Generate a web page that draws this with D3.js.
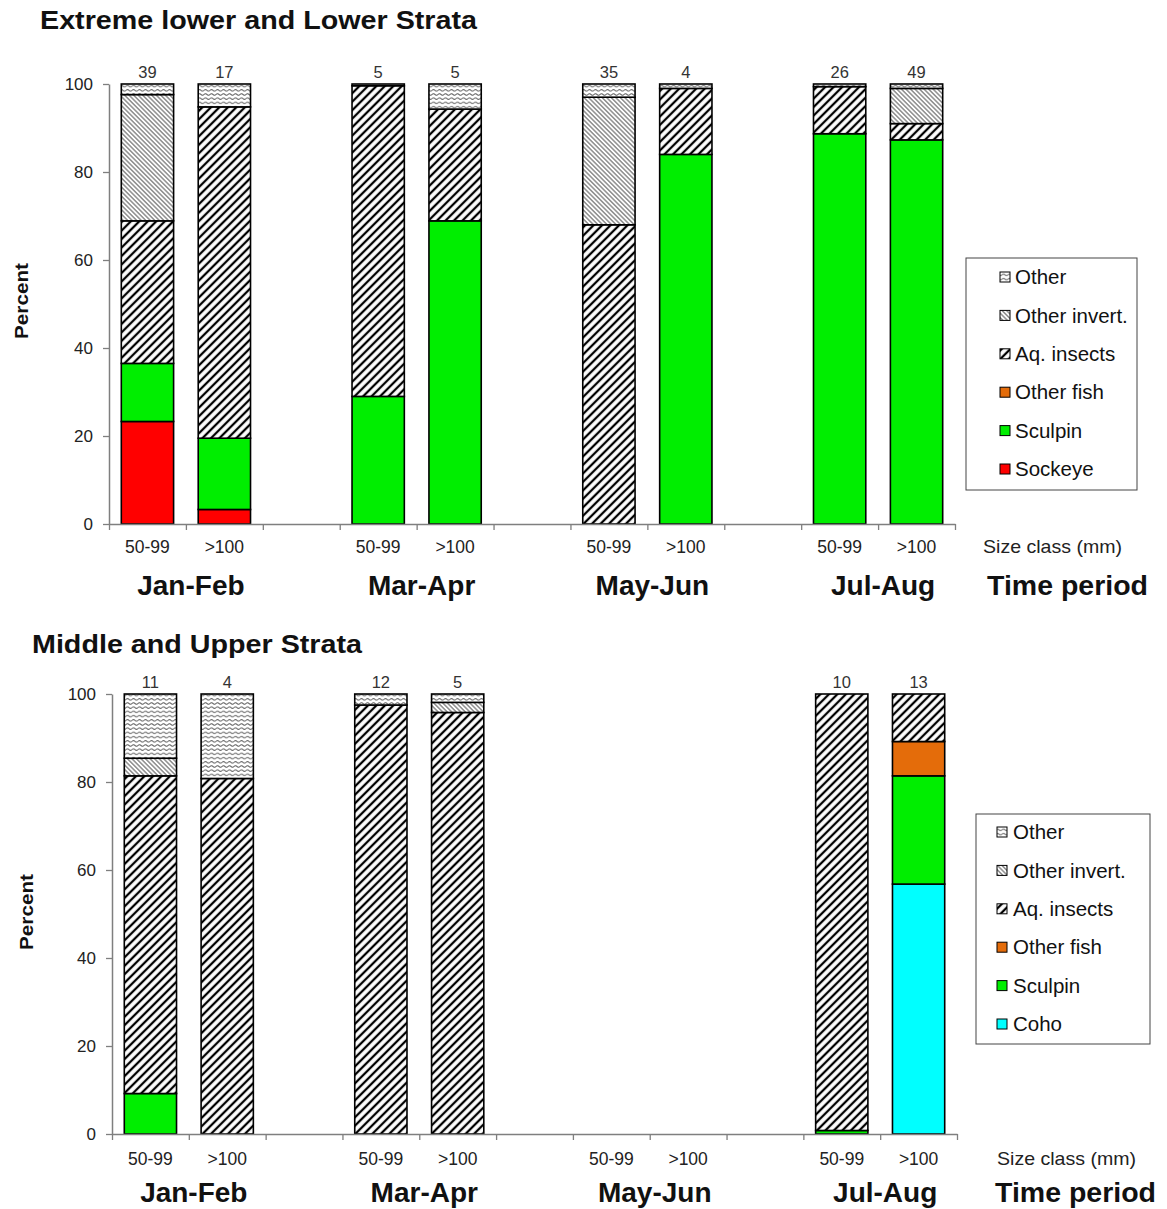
<!DOCTYPE html>
<html><head><meta charset="utf-8">
<script src="https://cdn.jsdelivr.net/npm/d3@7"></script>
<style>
body{margin:0;background:#fff;}
svg{display:block;font-family:"Liberation Sans",Arial,sans-serif;}
</style></head>
<body>
<svg id="chart" width="1167" height="1209"></svg>
<script>
// ---------- DATA ----------
const periods = ["Jan-Feb", "Mar-Apr", "May-Jun", "Jul-Aug"];
const sizeClasses = ["50-99", ">100"];
const yTicks = [0, 20, 40, 60, 80, 100];

// Top panel: Extreme lower and Lower Strata (order: Jan 50-99, Jan >100, Mar 50-99, ...)
const topCounts      = [39, 17, 5, 5, 35, 4, 26, 49];
const topSockeye     = [23.3, 3.3, 0, 0, 0, 0, 0, 0];
const topSculpin     = [13.2, 16.2, 29.0, 68.9, 0, 84.0, 88.7, 87.3];
const topOtherFish   = [0, 0, 0, 0, 0, 0, 0, 0];
const topAqInsects   = [32.4, 75.3, 70.6, 25.4, 68.0, 15.0, 10.7, 3.7];
const topOtherInvert = [28.7, 0, 0, 0, 29.0, 0, 0, 8.0];
const topOther       = [2.4, 5.2, 0.4, 5.7, 3.0, 1.0, 0.6, 1.0];

// Bottom panel: Middle and Upper Strata
const botCounts      = [11, 4, 12, 5, null, null, 10, 13];
const botCoho        = [0, 0, 0, 0, 0, 0, 0, 56.8];
const botSculpin     = [9.2, 0, 0, 0, 0, 0, 0.8, 24.6];
const botOtherFish   = [0, 0, 0, 0, 0, 0, 0, 7.8];
const botAqInsects   = [72.2, 80.8, 97.5, 95.8, 0, 0, 99.2, 10.8];
const botOtherInvert = [4.0, 0, 0, 2.3, 0, 0, 0, 0];
const botOther       = [14.6, 19.2, 2.5, 1.9, 0, 0, 0, 0];

// ---------- SETUP ----------
const svg = d3.select("#chart");
const defs = svg.append("defs");

const pa = defs.append("pattern").attr("id","pAq").attr("patternUnits","userSpaceOnUse")
  .attr("width",6).attr("height",6).attr("patternTransform","rotate(45)");
pa.append("rect").attr("width",6).attr("height",6).attr("fill","#fff");
pa.append("line").attr("x1",3).attr("x2",3).attr("y1",0).attr("y2",6).attr("stroke","#000").attr("stroke-width",2.3);

const po = defs.append("pattern").attr("id","pOI").attr("patternUnits","userSpaceOnUse")
  .attr("width",3.2).attr("height",3.2).attr("patternTransform","rotate(-45)");
po.append("rect").attr("width",3.2).attr("height",3.2).attr("fill","#fff");
po.append("line").attr("x1",1.6).attr("x2",1.6).attr("y1",0).attr("y2",3.2).attr("stroke","#555").attr("stroke-width",1);

const pw = defs.append("pattern").attr("id","pOther").attr("patternUnits","userSpaceOnUse")
  .attr("width",6).attr("height",4.2);
pw.append("rect").attr("width",6).attr("height",4.2).attr("fill","#fff");
pw.append("path").attr("d","M0,2.1 Q1.5,0.6 3,2.1 T6,2.1").attr("fill","none").attr("stroke","#666").attr("stroke-width",0.9);

const fills = {
  sockeye: "#ff0000", coho: "#00ffff", sculpin: "#00ee00", otherFish: "#e46c0a",
  aq: "url(#pAq)", oi: "url(#pOI)", other: "url(#pOther)"
};
const labels = {
  sockeye: "Sockeye", coho: "Coho", sculpin: "Sculpin", otherFish: "Other fish",
  aq: "Aq. insects", oi: "Other invert.", other: "Other"
};

function drawPanel(cfg) {
  const g = svg.append("g");
  const slotKeys = [];
  periods.forEach((p, i) => {
    sizeClasses.forEach(s => slotKeys.push(p + "|" + s));
    if (i < periods.length - 1) slotKeys.push("gap" + i);
  });
  const xb = d3.scaleBand().domain(slotKeys).range([cfg.x0, cfg.x1]).padding(0);
  const xl = d3.scaleLinear().domain([0, slotKeys.length]).range([cfg.x0, cfg.x1]);
  const y = d3.scaleLinear().domain([0, 100]).range([cfg.yBot, cfg.yTop]);

  const rows = [];
  periods.forEach((p, i) => sizeClasses.forEach((s, j) => {
    const k = i * 2 + j;
    const r = { key: p + "|" + s, n: cfg.counts[k] };
    cfg.keys.forEach(key => r[key] = cfg.series[key][k]);
    rows.push(r);
  }));
  const stacked = d3.stack().keys(cfg.keys)(rows);
  const bw = xb.bandwidth() * 0.68;

  stacked.forEach(layer => {
    g.append("g").selectAll("rect").data(layer.filter(d => d[1] - d[0] > 0)).join("rect")
      .attr("x", d => xb(d.data.key) + (xb.bandwidth() - bw) / 2)
      .attr("width", bw)
      .attr("y", d => y(d[1]))
      .attr("height", d => y(d[0]) - y(d[1]))
      .attr("fill", fills[layer.key])
      .attr("stroke", "#000").attr("stroke-width", 1.6);
  });

  g.append("g").selectAll("text").data(rows.filter(d => d.n != null)).join("text")
    .attr("x", d => xb(d.key) + xb.bandwidth() / 2)
    .attr("y", cfg.yTop - 6)
    .attr("text-anchor", "middle").attr("font-size", 16.5).attr("fill", "#333")
    .text(d => d.n);

  const ya = g.append("g").attr("transform", `translate(${cfg.x0},0)`)
    .call(d3.axisLeft(y).tickValues(yTicks).tickSize(6).tickSizeOuter(0).tickPadding(10));
  ya.select(".domain").attr("stroke", "#7f7f7f").attr("stroke-width", 1.5);
  ya.selectAll(".tick line").attr("stroke", "#7f7f7f").attr("stroke-width", 1.3);
  ya.selectAll("text").attr("font-size", 17).attr("fill", "#222").attr("font-family", "Liberation Sans, Arial");

  const xa = g.append("g").attr("transform", `translate(0,${cfg.yBot})`)
    .call(d3.axisBottom(xl).tickValues(d3.range(slotKeys.length + 1)).tickFormat("").tickSize(6).tickSizeOuter(0));
  xa.select(".domain").attr("stroke", "#7f7f7f").attr("stroke-width", 1.5);
  xa.selectAll(".tick line").attr("stroke", "#7f7f7f").attr("stroke-width", 1.3);

  g.append("g").selectAll("text").data(rows).join("text")
    .attr("x", d => xb(d.key) + xb.bandwidth() / 2)
    .attr("y", cfg.sizeY)
    .attr("text-anchor", "middle").attr("font-size", 17.5).attr("fill", "#222")
    .text(d => d.key.split("|")[1]);

  g.append("g").selectAll("text").data(periods).join("text")
    .attr("x", p => xb(p + "|" + sizeClasses[1]) + 5)
    .attr("y", cfg.periodY)
    .attr("text-anchor", "middle").attr("font-size", 28).attr("font-weight", "bold").attr("fill", "#111")
    .text(p => p);

  g.append("text").attr("x", cfg.sizeCaptionX).attr("y", cfg.sizeY)
    .attr("font-size", 18.5).attr("fill", "#222").attr("textLength", 139).attr("lengthAdjust","spacingAndGlyphs")
    .text("Size class (mm)");
  g.append("text").attr("x", cfg.timeX).attr("y", cfg.periodY)
    .attr("font-size", 28).attr("font-weight", "bold").attr("fill", "#111")
    .attr("textLength", 161).attr("lengthAdjust","spacingAndGlyphs")
    .text("Time period");

  g.append("text").attr("x", cfg.titleX).attr("y", cfg.titleY)
    .attr("font-size", 26).attr("font-weight", "bold").attr("fill", "#111")
    .attr("textLength", cfg.titleLen).attr("lengthAdjust","spacingAndGlyphs")
    .text(cfg.title);

  g.append("text").attr("transform", `translate(${cfg.yLabX},${cfg.yLabY}) rotate(-90)`)
    .attr("text-anchor", "middle").attr("dy", "0.35em")
    .attr("font-size", 18).attr("font-weight", "bold").attr("fill", "#111")
    .attr("textLength", 76).attr("lengthAdjust","spacingAndGlyphs")
    .text("Percent");

  const L = cfg.legend;
  const lg = g.append("g");
  lg.append("rect").attr("x", L.x).attr("y", L.y).attr("width", L.w).attr("height", L.h)
    .attr("fill", "#fff").attr("stroke", "#444").attr("stroke-width", 1);
  const legKeys = cfg.keys.slice().reverse();
  const items = lg.selectAll("g.item").data(legKeys).join("g").attr("class", "item")
    .attr("transform", (d, i) => `translate(0,${L.y + L.first + i * L.step})`);
  items.append("rect").attr("x", L.sx).attr("y", -5).attr("width", 10).attr("height", 10)
    .attr("fill", d => fills[d]).attr("stroke", "#000").attr("stroke-width", 1);
  items.append("text").attr("x", L.tx).attr("y", 0).attr("dy", "0.35em")
    .attr("font-size", 20.5).attr("fill", "#111").text(d => labels[d]);
}

drawPanel({
  x0: 109, x1: 955, yTop: 84, yBot: 524,
  counts: topCounts,
  keys: ["sockeye", "sculpin", "otherFish", "aq", "oi", "other"],
  series: { sockeye: topSockeye, sculpin: topSculpin, otherFish: topOtherFish,
            aq: topAqInsects, oi: topOtherInvert, other: topOther },
  sizeY: 553, periodY: 595, sizeCaptionX: 983, timeX: 987,
  title: "Extreme lower and Lower Strata", titleX: 40, titleY: 29, titleLen: 437,
  yLabX: 22, yLabY: 301,
  legend: { x: 966, y: 258, w: 171, h: 232, first: 19, step: 38.4, sx: 1000, tx: 1015 }
});

drawPanel({
  x0: 112, x1: 957, yTop: 694, yBot: 1134,
  counts: botCounts,
  keys: ["coho", "sculpin", "otherFish", "aq", "oi", "other"],
  series: { coho: botCoho, sculpin: botSculpin, otherFish: botOtherFish,
            aq: botAqInsects, oi: botOtherInvert, other: botOther },
  sizeY: 1165, periodY: 1202, sizeCaptionX: 997, timeX: 995,
  title: "Middle and Upper Strata", titleX: 32, titleY: 653, titleLen: 330,
  yLabX: 27, yLabY: 912,
  legend: { x: 976, y: 814, w: 174, h: 230, first: 18, step: 38.4, sx: 997, tx: 1013 }
});
</script>
</body></html>
